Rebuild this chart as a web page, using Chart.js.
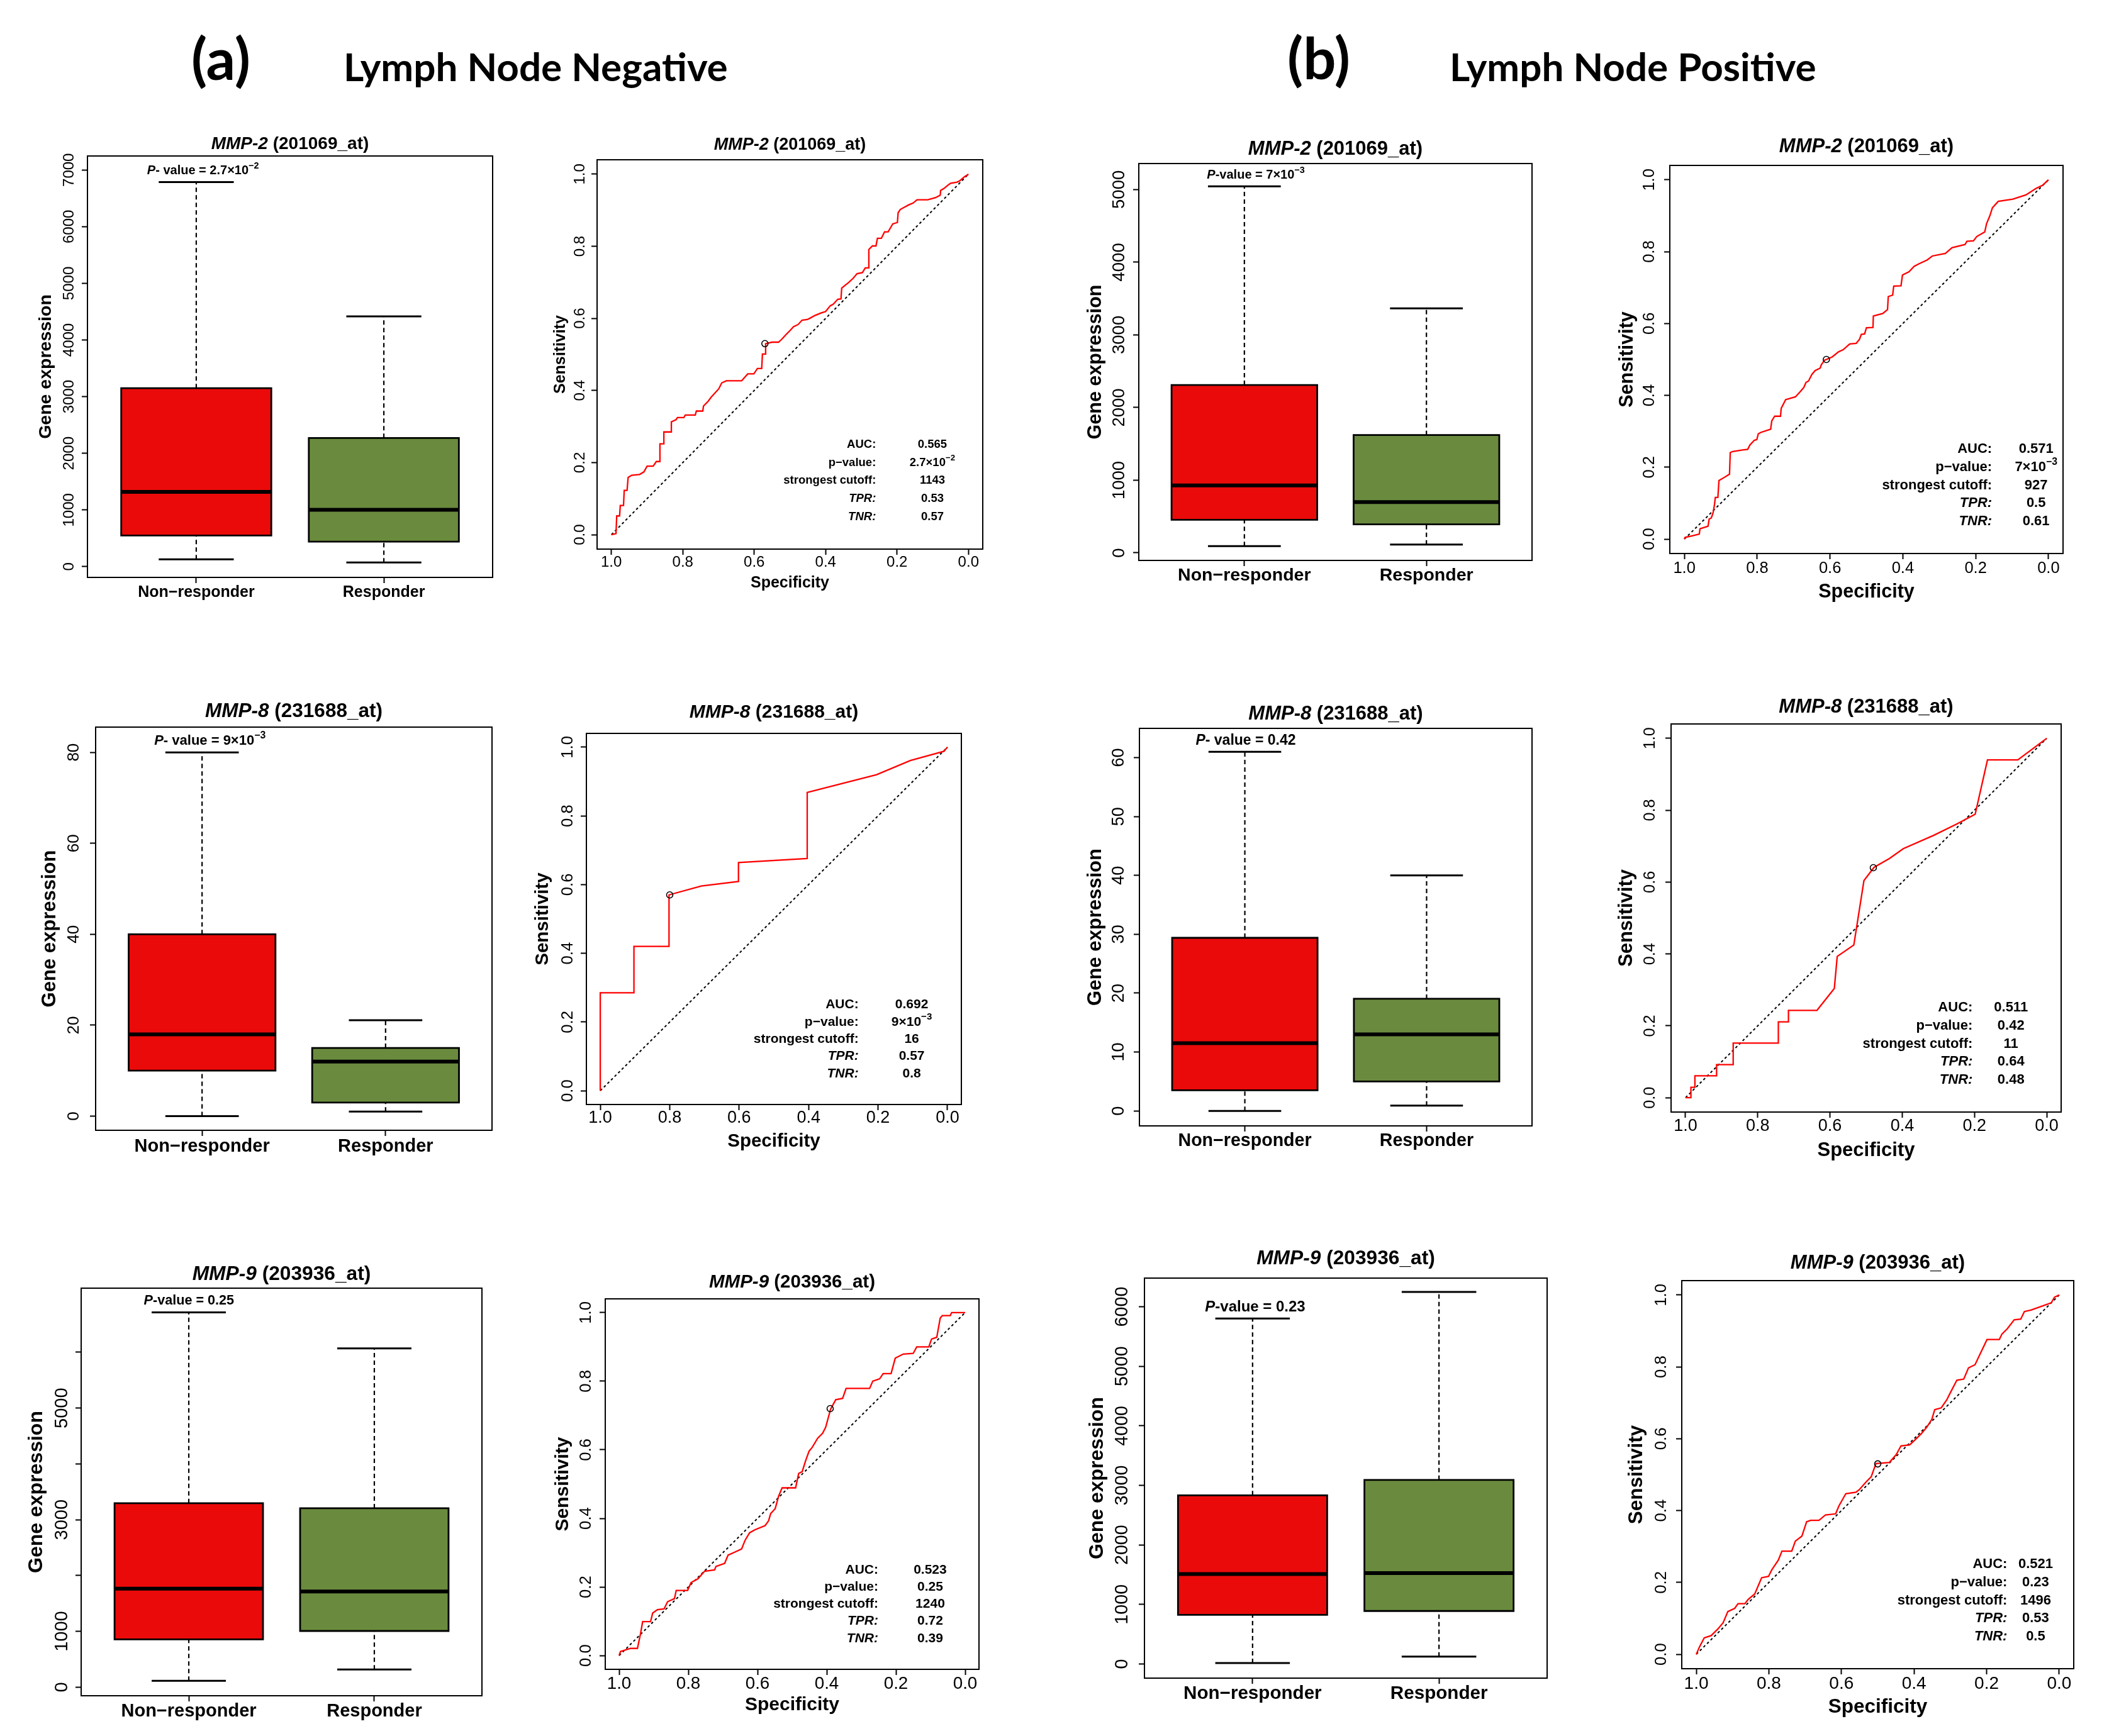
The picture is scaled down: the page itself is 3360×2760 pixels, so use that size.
<!DOCTYPE html>
<html><head><meta charset="utf-8">
<script src="https://cdn.jsdelivr.net/npm/chart.js@4.4.1/dist/chart.umd.min.js"></script>
<style>
html,body{margin:0;padding:0;background:#fff;width:3360px;height:2760px;overflow:hidden;position:relative}
canvas{position:absolute}
.hdr{position:absolute;font-family:Lato,"Open Sans",sans-serif;font-weight:700;color:#000;white-space:nowrap;line-height:1}
</style></head><body>
<div class="hdr" style="left:304px;top:46px;font-size:92px">(a)</div>
<div class="hdr" style="left:546px;top:74px;font-size:62px">Lymph Node Negative</div>
<div class="hdr" style="left:2046px;top:45px;font-size:92px">(b)</div>
<div class="hdr" style="left:2304px;top:74px;font-size:62px">Lymph Node Positive</div>
<script>
// ---------------- DATA ----------------
const groups = ['Non\u2212responder', 'Responder'];
const titleMMP2 = '*MMP-2* (201069_at)';
const titleMMP8 = '*MMP-8* (231688_at)';
const titleMMP9 = '*MMP-9* (203936_at)';

// Box plot statistics: [lower whisker, Q1, median, Q3, upper whisker]
const negMMP2NonResp = [130, 549, 1320, 3149, 6785];
const negMMP2Resp    = [74, 442, 1002, 2271, 4417];
const posMMP2NonResp = [93, 455, 928, 2310, 5044];
const posMMP2Resp    = [115, 393, 698, 1621, 3366];
const negMMP8NonResp = [0, 10, 18, 40, 80];
const negMMP8Resp    = [1, 3, 12, 15, 21.1];
const posMMP8NonResp = [0, 3.5, 11.5, 29.4, 61];
const posMMP8Resp    = [0.9, 5, 13, 19.05, 40];
const negMMP9NonResp = [115, 857, 1766, 3297, 6715];
const negMMP9Resp    = [316, 1007, 1715, 3205, 6070];
const posMMP9NonResp = [16, 826, 1511, 2833, 5801];
const posMMP9Resp    = [124, 890, 1527, 3092, 6249];

// Box plot p-value labels
const negMMP2P = '*P*- value = 2.7\u00d710^{\u22122}';
const posMMP2P = '*P*-value = 7\u00d710^{\u22123}';
const negMMP8P = '*P*- value = 9\u00d710^{\u22123}';
const posMMP8P = '*P*- value = 0.42';
const negMMP9P = '*P*-value = 0.25';
const posMMP9P = '*P*-value = 0.23';

// Box plot y ticks
const negMMP2Ticks = [0, 1000, 2000, 3000, 4000, 5000, 6000, 7000];
const negMMP2TickLabels = ['0', '1000', '2000', '3000', '4000', '5000', '6000', '7000'];
const posMMP2Ticks = [0, 1000, 2000, 3000, 4000, 5000];
const posMMP2TickLabels = ['0', '1000', '2000', '3000', '4000', '5000'];
const negMMP8Ticks = [0, 20, 40, 60, 80];
const negMMP8TickLabels = ['0', '20', '40', '60', '80'];
const posMMP8Ticks = [0, 10, 20, 30, 40, 50, 60];
const posMMP8TickLabels = ['0', '10', '20', '30', '40', '50', '60'];
const negMMP9Ticks = [0, 1000, 2000, 3000, 4000, 5000, 6000];
const negMMP9TickLabels = ['0', '1000', '', '3000', '', '5000', ''];
const posMMP9Ticks = [0, 1000, 2000, 3000, 4000, 5000, 6000];
const posMMP9TickLabels = ['0', '1000', '2000', '3000', '4000', '5000', '6000'];

// ROC axes
const rocTicks = [0, 0.2, 0.4, 0.6, 0.8, 1.0];
const rocTickLabels = ['0.0', '0.2', '0.4', '0.6', '0.8', '1.0'];
const rocStatLabels = ['AUC:', 'p\u2212value:', 'strongest cutoff:', '*TPR:*', '*TNR:*'];

// ROC curves (specificity, sensitivity)
const negMMP2Spec = [1.000,0.987,0.985,0.977,0.975,0.966,0.964,0.956,0.953,0.943,
  0.921,0.909,0.900,0.883,0.874,0.864,0.864,0.853,0.853,0.832,
  0.832,0.819,0.815,0.797,0.793,0.765,0.762,0.744,0.742,0.729,
  0.721,0.709,0.699,0.691,0.678,0.635,0.626,0.618,0.601,0.591,
  0.579,0.577,0.568,0.568,0.550,0.532,0.524,0.511,0.498,0.490,
  0.477,0.466,0.451,0.443,0.430,0.413,0.400,0.387,0.379,0.366,
  0.357,0.355,0.344,0.336,0.323,0.312,0.297,0.289,0.280,0.279,
  0.269,0.259,0.255,0.244,0.235,0.225,0.212,0.199,0.197,0.191,
  0.178,0.167,0.155,0.144,0.114,0.092,0.079,0.078,0.069,0.058,
  0.050,0.032,0.024,0.011,0.000];
const negMMP2Sens = [0.000,0.003,0.052,0.052,0.081,0.081,0.123,0.123,0.159,0.165,
  0.167,0.174,0.190,0.190,0.203,0.203,0.252,0.252,0.285,0.285,
  0.313,0.319,0.325,0.325,0.332,0.332,0.343,0.343,0.357,0.370,
  0.381,0.394,0.405,0.421,0.427,0.427,0.437,0.446,0.446,0.461,
  0.461,0.501,0.501,0.530,0.534,0.534,0.541,0.555,0.568,0.577,
  0.583,0.595,0.597,0.601,0.608,0.615,0.619,0.635,0.639,0.653,
  0.654,0.684,0.693,0.699,0.711,0.724,0.727,0.740,0.740,0.791,
  0.801,0.801,0.822,0.822,0.840,0.840,0.862,0.866,0.893,0.902,
  0.909,0.915,0.920,0.929,0.929,0.935,0.942,0.955,0.960,0.969,
  0.975,0.978,0.982,0.993,1.000];
const posMMP2Spec = [1.000,0.998,0.980,0.959,0.957,0.935,0.932,0.926,0.921,0.917,
  0.915,0.908,0.905,0.890,0.876,0.874,0.867,0.840,0.826,0.820,
  0.808,0.801,0.797,0.790,0.763,0.760,0.752,0.736,0.734,0.727,
  0.722,0.695,0.683,0.672,0.666,0.659,0.650,0.641,0.627,0.624,
  0.615,0.610,0.594,0.577,0.564,0.546,0.528,0.519,0.514,0.505,
  0.500,0.482,0.481,0.455,0.442,0.440,0.428,0.425,0.405,0.401,
  0.383,0.369,0.356,0.333,0.319,0.283,0.265,0.229,0.224,0.206,
  0.197,0.175,0.170,0.161,0.154,0.138,0.098,0.062,0.034,0.016,0.000];
const posMMP2Sens = [0.000,0.005,0.009,0.014,0.029,0.036,0.056,0.059,0.074,0.098,
  0.116,0.116,0.163,0.172,0.181,0.241,0.244,0.248,0.250,0.262,
  0.275,0.277,0.293,0.297,0.306,0.329,0.342,0.342,0.364,0.378,
  0.388,0.396,0.409,0.422,0.436,0.440,0.458,0.469,0.476,0.485,
  0.498,0.500,0.507,0.521,0.527,0.543,0.545,0.556,0.570,0.571,
  0.588,0.589,0.621,0.628,0.639,0.675,0.679,0.704,0.705,0.735,
  0.744,0.759,0.766,0.777,0.788,0.795,0.811,0.820,0.829,0.830,
  0.842,0.855,0.878,0.900,0.922,0.940,0.946,0.958,0.976,0.985,1.000];
const negMMP8Spec = [1.0,1.0,0.903,0.903,0.802,0.802,0.709,0.602,0.602,0.404,0.404,0.204,0.107,0.010,0.0];
const negMMP8Sens = [0.0,0.285,0.285,0.420,0.420,0.570,0.596,0.609,0.664,0.676,0.868,0.920,0.961,0.988,1.0];
const posMMP8Spec = [1.0,0.985,0.985,0.974,0.974,0.914,0.914,0.868,0.868,0.743,0.743,0.715,0.715,0.636,
  0.588,0.580,0.534,0.506,0.478,0.435,0.397,0.313,0.248,0.198,0.164,0.080,0.0];
const posMMP8Sens = [0.0,0.0,0.029,0.029,0.061,0.061,0.092,0.092,0.152,0.152,0.211,0.211,0.243,0.243,
  0.304,0.393,0.425,0.604,0.641,0.666,0.693,0.730,0.762,0.789,0.940,0.940,1.0];
const negMMP9Spec = [1.000,0.996,0.967,0.947,0.938,0.932,0.909,0.903,0.889,0.870,
  0.860,0.840,0.835,0.802,0.792,0.772,0.753,0.724,0.720,0.695,
  0.685,0.665,0.646,0.636,0.623,0.607,0.578,0.568,0.562,0.549,
  0.539,0.529,0.490,0.481,0.471,0.461,0.451,0.442,0.426,0.412,
  0.403,0.389,0.374,0.354,0.344,0.276,0.267,0.247,0.237,0.214,
  0.202,0.179,0.150,0.140,0.105,0.097,0.082,0.072,0.066,0.043,0.039,0.000];
const negMMP9Sens = [0.000,0.012,0.021,0.021,0.064,0.099,0.099,0.124,0.134,0.136,
  0.157,0.166,0.190,0.190,0.213,0.224,0.246,0.250,0.260,0.269,
  0.293,0.302,0.311,0.336,0.358,0.367,0.379,0.393,0.414,0.428,
  0.465,0.489,0.489,0.531,0.536,0.568,0.596,0.607,0.634,0.648,
  0.666,0.718,0.746,0.750,0.779,0.779,0.800,0.807,0.822,0.822,
  0.867,0.879,0.881,0.900,0.900,0.923,0.928,0.984,0.991,0.991,1.000,1.000];
const posMMP9Spec = [1.000,0.991,0.978,0.959,0.941,0.926,0.913,0.894,0.885,0.866,
  0.857,0.839,0.820,0.801,0.792,0.774,0.764,0.737,0.727,0.709,
  0.696,0.685,0.662,0.644,0.616,0.607,0.588,0.560,0.551,0.532,
  0.518,0.505,0.468,0.449,0.436,0.412,0.393,0.380,0.365,0.351,
  0.343,0.325,0.310,0.301,0.282,0.263,0.250,0.232,0.217,0.199,
  0.165,0.158,0.143,0.124,0.106,0.096,0.078,0.022,0.013,0.000];
const posMMP9Sens = [0.000,0.021,0.046,0.052,0.070,0.088,0.119,0.128,0.141,0.141,
  0.153,0.168,0.213,0.217,0.235,0.262,0.287,0.287,0.315,0.329,
  0.369,0.373,0.373,0.388,0.391,0.413,0.447,0.451,0.458,0.480,
  0.494,0.531,0.534,0.556,0.580,0.583,0.601,0.614,0.632,0.654,
  0.681,0.686,0.708,0.726,0.763,0.766,0.797,0.806,0.838,0.876,
  0.876,0.891,0.906,0.931,0.933,0.954,0.958,0.978,0.994,1.000];

// ROC statistics: [AUC, p-value, strongest cutoff, TPR, TNR]
const negMMP2Roc = ['0.565', '2.7\u00d710^{\u22122}', '1143', '0.53', '0.57'];
const posMMP2Roc = ['0.571', '7\u00d710^{\u22123}', '927', '0.5', '0.61'];
const negMMP8Roc = ['0.692', '9\u00d710^{\u22123}', '16', '0.57', '0.8'];
const posMMP8Roc = ['0.511', '0.42', '11', '0.64', '0.48'];
const negMMP9Roc = ['0.523', '0.25', '1240', '0.72', '0.39'];
const posMMP9Roc = ['0.521', '0.23', '1496', '0.53', '0.5'];

// ---------------- STYLE / LAYOUT ----------------
const FONT = '"Liberation Sans", Arial, Helvetica, sans-serif';
const BOX_COLORS = ['#EB0A0A', '#6A8B3E'];
const ROC_ROWS = [0.25, 0.20, 0.15, 0.10, 0.05];
Chart.defaults.font.family = FONT;
Chart.defaults.color = '#000';

const panels = [
  {kind:'box', title:titleMMP2, stats:[negMMP2NonResp, negMMP2Resp], yRange:[-190, 7247], yTicks:negMMP2Ticks, yLabels:negMMP2TickLabels, p:negMMP2P,
   lay:{L:139, T:248, R:783, B:918, ytOff:66, ylabOff:29, xtickOff:24, titleGap:19, titleSize:28, yTitleSize:28.5, xTickSize:25, yTickSize:24, pSize:20, pX:1.036}},
  {kind:'roc', title:titleMMP2, spec:negMMP2Spec, sens:negMMP2Sens, stats:negMMP2Roc,
   lay:{L:949.3, T:254.1, R:1562.2, B:872.9, ytOff:58, ylabOff:27, xtickOff:21, xtitleOff:54, titleGap:23, titleSize:27, yTitleSize:25, xTitleSize:25, xTickSize:24, yTickSize:24, annSize:18.5, annLabelX:0.259, annValX:0.101}},
  {kind:'box', title:titleMMP2, stats:[posMMP2NonResp, posMMP2Resp], yRange:[-104, 5358], yTicks:posMMP2Ticks, yLabels:posMMP2TickLabels, p:posMMP2P,
   lay:{L:1810, T:260, R:2435, B:891, ytOff:69, ylabOff:30.5, xtickOff:24, titleGap:23, titleSize:31, yTitleSize:30.5, xTickSize:28.5, yTickSize:27.5, pSize:20, pX:1.063}},
  {kind:'roc', title:titleMMP2, spec:posMMP2Spec, sens:posMMP2Sens, stats:posMMP2Roc,
   lay:{L:2654.4, T:263.1, R:3278.6, B:880.4, ytOff:68, ylabOff:32, xtickOff:24, xtitleOff:61, titleGap:30, titleSize:31, yTitleSize:30.5, xTitleSize:30.5, xTickSize:25.5, yTickSize:25.5, annSize:22, annLabelX:0.155, annValX:0.034}},
  {kind:'box', title:titleMMP8, stats:[negMMP8NonResp, negMMP8Resp], yRange:[-3.11, 85.55], yTicks:negMMP8Ticks, yLabels:negMMP8TickLabels, p:negMMP8P,
   lay:{L:152, T:1156, R:782, B:1796.5, ytOff:72, ylabOff:34, xtickOff:26, titleGap:25, titleSize:31.5, yTitleSize:31, xTickSize:29, yTickSize:26, pSize:22, pX:1.043}},
  {kind:'roc', title:titleMMP8, spec:negMMP8Spec, sens:negMMP8Sens, stats:negMMP8Roc,
   lay:{L:931.5, T:1166, R:1527.5, B:1756, ytOff:69, ylabOff:29.5, xtickOff:22, xtitleOff:59, titleGap:33, titleSize:30, yTitleSize:29.5, xTitleSize:29.5, xTickSize:27, yTickSize:25.6, annSize:21, annLabelX:0.256, annValX:0.103}},
  {kind:'box', title:titleMMP8, stats:[posMMP8NonResp, posMMP8Resp], yRange:[-2.54, 64.97], yTicks:posMMP8Ticks, yLabels:posMMP8TickLabels, p:posMMP8P,
   lay:{L:1811, T:1158, R:2435, B:1790, ytOff:69, ylabOff:32, xtickOff:24, titleGap:23, titleSize:31, yTitleSize:31, xTickSize:28.6, yTickSize:27, pSize:23, pX:1.005}},
  {kind:'roc', title:titleMMP8, spec:posMMP8Spec, sens:posMMP8Sens, stats:posMMP8Roc,
   lay:{L:2655.6, T:1151, R:3276, B:1768, ytOff:70, ylabOff:32.6, xtickOff:23, xtitleOff:61, titleGap:27, titleSize:31, yTitleSize:31, xTitleSize:31, xTickSize:27, yTickSize:25.2, annSize:22, annLabelX:0.205, annValX:0.099}},
  {kind:'box', title:titleMMP9, stats:[negMMP9NonResp, negMMP9Resp], yRange:[-154, 7149], yTicks:negMMP9Ticks, yLabels:negMMP9TickLabels, p:negMMP9P,
   lay:{L:128.6, T:2048, R:766, B:2695.7, ytOff:70, ylabOff:30, xtickOff:24.5, titleGap:22, titleSize:31.7, yTitleSize:32, xTickSize:29, yTickSize:29, pSize:21.6, pX:1.001}},
  {kind:'roc', title:titleMMP9, spec:negMMP9Spec, sens:negMMP9Sens, stats:negMMP9Roc,
   lay:{L:961.6, T:2064.7, R:1556.3, B:2654.2, ytOff:67, ylabOff:29.6, xtickOff:23, xtitleOff:57, titleGap:26, titleSize:29.5, yTitleSize:30, xTitleSize:30, xTickSize:27.8, yTickSize:25.7, annSize:21, annLabelX:0.251, annValX:0.101}},
  {kind:'box', title:titleMMP9, stats:[posMMP9NonResp, posMMP9Resp], yRange:[-238, 6481], yTicks:posMMP9Ticks, yLabels:posMMP9TickLabels, p:posMMP9P,
   lay:{L:1819, T:2032.4, R:2459, B:2667.7, ytOff:75, ylabOff:35, xtickOff:25, titleGap:31, titleSize:31.7, yTitleSize:32, xTickSize:29.6, yTickSize:28.7, pSize:24, pX:1.014}},
  {kind:'roc', title:titleMMP9, spec:posMMP9Spec, sens:posMMP9Sens, stats:posMMP9Roc,
   lay:{L:2672.6, T:2035.6, R:3296.3, B:2652.8, ytOff:72, ylabOff:31.6, xtickOff:24, xtitleOff:61, titleGap:28, titleSize:31, yTitleSize:31.5, xTitleSize:31.5, xTickSize:28, yTickSize:25.7, annSize:22, annLabelX:0.143, annValX:0.065}}
];

// ---------------- HELPERS ----------------
function parseRich(s){
  const segs=[]; let cur='', it=false, i=0;
  while(i<s.length){
    const c=s[i];
    if(c==='*'){ if(cur) segs.push({t:cur,i:it}); cur=''; it=!it; i++; }
    else if(c==='^' && s[i+1]==='{'){ if(cur) segs.push({t:cur,i:it}); cur=''; const j=s.indexOf('}',i); segs.push({t:s.slice(i+2,j),i:it,sup:true}); i=j+1; }
    else { cur+=c; i++; }
  }
  if(cur) segs.push({t:cur,i:it});
  return segs;
}
function drawRich(ctx, s, x, y, align, size){
  const segs=parseRich(s);
  const fontOf = sg => (sg.i?'italic ':'')+'bold '+(sg.sup?size*0.72:size)+'px '+FONT;
  let w=0;
  segs.forEach(sg=>{ ctx.font=fontOf(sg); sg.w=ctx.measureText(sg.t).width; w+=sg.w; });
  let sx = align==='center' ? x-w/2 : (align==='right' ? x-w : x);
  ctx.textAlign='left'; ctx.textBaseline='middle'; ctx.fillStyle='#000';
  segs.forEach(sg=>{ ctx.font=fontOf(sg); ctx.fillText(sg.t, sx, sg.sup ? y-size*0.38 : y); sx+=sg.w; });
}
function makeCanvas(l,t,w,h){
  const c=document.createElement('canvas');
  c.width=w; c.height=h;
  c.style.left=l+'px'; c.style.top=t+'px'; c.style.width=w+'px'; c.style.height=h+'px';
  document.body.appendChild(c);
  return c;
}
function line(points, color, width, extra){
  return Object.assign({data:points, borderColor:color, borderWidth:width, fill:false, pointRadius:0, tension:0, borderCapStyle:'butt'}, extra||{});
}

function buildPanel(p){
  const lay=p.lay, isRoc=p.kind==='roc';
  const L=Math.round(lay.L), T=Math.round(lay.T), R=Math.round(lay.R), B=Math.round(lay.B);
  const cl=Math.round(lay.L - lay.ytOff - 0.6*lay.yTitleSize);
  const ct=T-100, cr=R+25;
  const cb=isRoc ? Math.round(lay.B + lay.xtitleOff + 0.6*lay.xTitleSize) : B+70;
  const canvas=makeCanvas(cl, ct, cr-cl, cb-ct);
  const yW=L-cl, xH=cb-B;
  const tickGrid={display:true, drawOnChartArea:false, drawTicks:true, tickLength:9, tickWidth:2, tickColor:'#000', color:'#000'};

  const datasets=[];
  const texts=[];
  let xScale, yScale;
  if(!isRoc){
    p.stats.forEach((s,g)=>{
      const cx=g+1, lo=s[0], q1=s[1], md=s[2], q3=s[3], hi=s[4];
      datasets.push(line([{x:cx-0.4,y:q3},{x:cx+0.4,y:q3}], 'rgba(0,0,0,0)', 1, {fill:'+1', backgroundColor:BOX_COLORS[g], order:10}));
      datasets.push(line([{x:cx-0.4,y:q1},{x:cx+0.4,y:q1}], 'rgba(0,0,0,0)', 1, {order:10}));
      datasets.push(line([{x:cx,y:q3},{x:cx,y:hi}], '#000', 2.2, {borderDash:[7,5], order:8}));
      datasets.push(line([{x:cx,y:lo},{x:cx,y:q1}], '#000', 2.2, {borderDash:[7,5], order:8}));
      datasets.push(line([{x:cx-0.2,y:hi},{x:cx+0.2,y:hi}], '#000', 3, {order:8}));
      datasets.push(line([{x:cx-0.2,y:lo},{x:cx+0.2,y:lo}], '#000', 3, {order:8}));
      datasets.push(line([{x:cx-0.4,y:q1},{x:cx+0.4,y:q1},{x:cx+0.4,y:q3},{x:cx-0.4,y:q3},{x:cx-0.4,y:q1}], '#000', 2.8, {borderJoinStyle:'miter', borderCapStyle:'square', order:5}));
      datasets.push(line([{x:cx-0.4,y:md},{x:cx+0.4,y:md}], '#000', 6, {order:4}));
    });
    texts.push({x:lay.pX, y:p.stats[0][4], dy:-18, s:p.p, align:'center', size:lay.pSize});
    xScale={type:'linear', min:0.42, max:2.58,
      afterBuildTicks:sc=>{ sc.ticks=[1,2].map(v=>({value:v})); },
      afterFit:sc=>{ sc.height=xH; },
      ticks:{autoSkip:false, maxRotation:0, color:'#000', padding:lay.xtickOff-9-0.6*lay.xTickSize,
        font:{family:FONT, size:lay.xTickSize, weight:'bold'}, callback:(v,i)=>groups[i]},
      grid:tickGrid, border:{display:false}};
    yScale={type:'linear', min:p.yRange[0], max:p.yRange[1],
      afterBuildTicks:sc=>{ sc.ticks=p.yTicks.map(v=>({value:v})); },
      afterFit:sc=>{ sc.width=yW; },
      ticks:{display:false}, grid:tickGrid, border:{display:false},
      title:{display:true, text:'Gene expression', color:'#000', padding:0, font:{family:FONT, size:lay.yTitleSize, weight:'bold'}}};
  } else {
    datasets.push(line([{x:1,y:0},{x:0,y:1}], '#000', 2, {borderDash:[4,4], order:3}));
    datasets.push(line(p.spec.map((v,i)=>({x:v, y:p.sens[i]})), '#FF0000', 2.3, {borderJoinStyle:'miter', order:2}));
    datasets.push({data:[{x:Number(p.stats[4]), y:Number(p.stats[3])}], showLine:false, pointRadius:5, pointBorderWidth:1.6,
      pointBorderColor:'#000', pointBackgroundColor:'rgba(0,0,0,0)', order:1});
    ROC_ROWS.forEach((ry,k)=>{
      texts.push({x:lay.annLabelX, y:ry, s:rocStatLabels[k], align:'right', size:lay.annSize});
      texts.push({x:lay.annValX, y:ry, s:p.stats[k], align:'center', size:lay.annSize});
    });
    xScale={type:'linear', min:-0.04, max:1.04, reverse:true,
      afterBuildTicks:sc=>{ sc.ticks=rocTicks.map(v=>({value:v})); },
      afterFit:sc=>{ sc.height=xH; },
      ticks:{autoSkip:false, maxRotation:0, color:'#000', padding:lay.xtickOff-9-0.6*lay.xTickSize,
        font:{family:FONT, size:lay.xTickSize}, callback:(v,i)=>rocTickLabels[i]},
      grid:tickGrid, border:{display:false},
      title:{display:true, text:'Specificity', color:'#000', padding:0, font:{family:FONT, size:lay.xTitleSize, weight:'bold'}}};
    yScale={type:'linear', min:-0.04, max:1.04,
      afterBuildTicks:sc=>{ sc.ticks=rocTicks.map(v=>({value:v})); },
      afterFit:sc=>{ sc.width=yW; },
      ticks:{display:false}, grid:tickGrid, border:{display:false},
      title:{display:true, text:'Sensitivity', color:'#000', padding:0, font:{family:FONT, size:lay.yTitleSize, weight:'bold'}}};
  }
  const yLabels = isRoc ? rocTickLabels : p.yLabels;

  const rPlot={
    id:'rplot',
    afterDraw(chart){
      const ctx=chart.ctx, a=chart.chartArea;
      ctx.save();
      ctx.setLineDash([]);
      ctx.strokeStyle='#000'; ctx.lineWidth=2;
      ctx.strokeRect(a.left, a.top, a.right-a.left, a.bottom-a.top);
      drawRich(ctx, p.title, (a.left+a.right)/2, a.top-lay.titleGap, 'center', lay.titleSize);
      const ys=chart.scales.y, xs=chart.scales.x;
      ys.ticks.forEach((t,k)=>{
        const lab=yLabels[k]; if(!lab) return;
        const py=ys.getPixelForValue(t.value);
        ctx.save();
        ctx.translate(a.left-lay.ylabOff, py);
        ctx.rotate(-Math.PI/2);
        ctx.font=lay.yTickSize+'px '+FONT;
        ctx.textAlign='center'; ctx.textBaseline='middle'; ctx.fillStyle='#000';
        ctx.fillText(lab,0,0);
        ctx.restore();
      });
      texts.forEach(tx=>{
        drawRich(ctx, tx.s, xs.getPixelForValue(tx.x), ys.getPixelForValue(tx.y)+(tx.dy||0), tx.align, tx.size);
      });
      ctx.restore();
    }
  };

  new Chart(canvas, {
    type:'line',
    data:{datasets},
    options:{
      responsive:false, maintainAspectRatio:false, animation:false, events:[],
      layout:{padding:{top:T-ct, right:cr-R, left:0, bottom:0}},
      plugins:{legend:{display:false}, tooltip:{enabled:false}},
      elements:{point:{radius:0}, line:{tension:0}},
      scales:{x:xScale, y:yScale}
    },
    plugins:[rPlot]
  });
}
panels.forEach(buildPanel);
</script>
</body></html>
